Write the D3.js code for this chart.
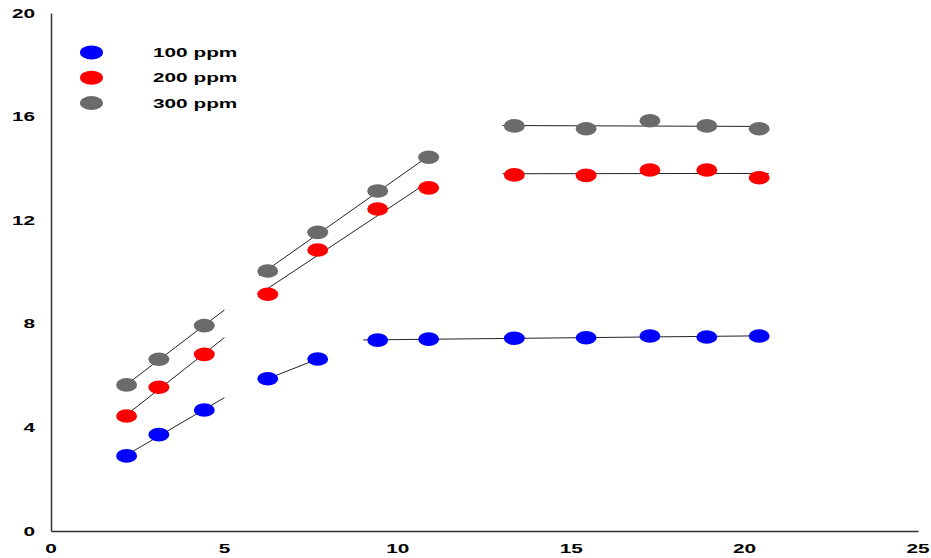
<!DOCTYPE html>
<html>
<head>
<meta charset="utf-8">
<script src="https://cdn.jsdelivr.net/npm/d3@7/dist/d3.min.js"></script>
<style>
  html, body { margin: 0; padding: 0; background: #fff; }
  svg text { font-family: "Liberation Sans", Arial, sans-serif; font-weight: bold; font-size: 13px; fill: #000; }
</style>
</head>
<body>
<svg id="chart" width="931" height="558"></svg>
<script>
// Sampling times shared by all three concentrations
const times = [2.18, 3.11, 4.42, 6.25, 7.69, 9.42, 10.89, 13.36, 15.43, 17.27, 18.91, 20.42];

// Measured values per concentration
const ppm100 = [2.90, 3.72, 4.67, 5.88, 6.64, 7.37, 7.41, 7.44, 7.46, 7.53, 7.49, 7.53];
const ppm200 = [4.44, 5.55, 6.82, 9.14, 10.85, 12.43, 13.25, 13.75, 13.73, 13.94, 13.94, 13.64];
const ppm300 = [5.64, 6.63, 7.93, 10.04, 11.53, 13.13, 14.43, 15.64, 15.53, 15.84, 15.64, 15.53];

const seriesNames = ["100 ppm", "200 ppm", "300 ppm"];
const seriesColors = ["#0000ff", "#ff0000", "#6b6b6b"];

// Linear-fit segments: [first index, last index, fit drawn from x, to x]
const fits100 = [[0, 2, 2.18, 5.0], [3, 4, 6.0, 7.69], [5, 11, 9.0, 20.7]];
const fits200 = [[0, 2, 2.18, 5.0], [3, 6, 6.0, 10.89], [7, 11, 13.02, 20.7]];
const fits300 = [[0, 2, 2.18, 5.0], [3, 6, 6.0, 10.89], [7, 11, 13.02, 20.7]];

const xTicks = [0, 5, 10, 15, 20, 25];
const yTicks = [0, 4, 8, 12, 16, 20];

const series = [
  { name: seriesNames[0], color: seriesColors[0], values: ppm100, fits: fits100 },
  { name: seriesNames[1], color: seriesColors[1], values: ppm200, fits: fits200 },
  { name: seriesNames[2], color: seriesColors[2], values: ppm300, fits: fits300 }
];

const svg = d3.select("#chart");
const x = d3.scaleLinear().domain([0, 25]).range([51, 918]);
const y = d3.scaleLinear().domain([0, 20]).range([531, 13]);
const stretch = 1.6;

// Axes (lines only, no tick marks)
const xAxis = svg.append("g").attr("transform", `translate(0,${y(0)})`)
  .call(d3.axisBottom(x).tickValues(xTicks).tickSize(0).tickFormat(""));
const yAxis = svg.append("g").attr("transform", `translate(${x(0)},0)`)
  .call(d3.axisLeft(y).tickValues(yTicks).tickSize(0).tickFormat(""));
[xAxis, yAxis].forEach(g => g.select(".domain").attr("stroke", "#333").attr("stroke-width", 1.5));

// Tick labels, wide bold lettering
svg.append("g").selectAll("text").data(xTicks).join("text")
  .attr("transform", d => `translate(${x(d)},${y(0) + 22}) scale(${stretch},1)`)
  .attr("text-anchor", "middle")
  .text(d => d);
svg.append("g").selectAll("text").data(yTicks).join("text")
  .attr("transform", d => `translate(35,${y(d)}) scale(${stretch},1)`)
  .attr("text-anchor", "end")
  .attr("dy", "0.36em")
  .text(d => d);

// Least-squares line through a subset of points
function fitLine(values, i0, i1) {
  const px = times.slice(i0, i1 + 1), py = values.slice(i0, i1 + 1);
  const mx = d3.mean(px), my = d3.mean(py);
  let sxy = 0, sxx = 0;
  px.forEach((v, i) => { sxy += (v - mx) * (py[i] - my); sxx += (v - mx) * (v - mx); });
  const b = sxy / sxx, a = my - b * mx;
  return t => a + b * t;
}

const fitG = svg.append("g");
series.forEach(s => {
  s.fits.forEach(([i0, i1, x0, x1]) => {
    const f = fitLine(s.values, i0, i1);
    fitG.append("line")
      .attr("x1", x(x0)).attr("y1", y(f(x0)))
      .attr("x2", x(x1)).attr("y2", y(f(x1)))
      .attr("stroke", "#222").attr("stroke-width", 1);
  });
});

// Data markers
const ptG = svg.append("g");
series.forEach(s => {
  ptG.selectAll(null).data(s.values).join("ellipse")
    .attr("cx", (d, i) => x(times[i]))
    .attr("cy", d => y(d))
    .attr("rx", 10.5).attr("ry", 6.8)
    .attr("fill", s.color);
});

// Legend
const legend = svg.append("g");
series.forEach((s, i) => {
  const ly = 52.5 + i * 25.3;
  legend.append("ellipse").attr("cx", 91.5).attr("cy", ly)
    .attr("rx", 11.5).attr("ry", 7).attr("fill", s.color);
  legend.append("text")
    .attr("transform", `translate(153,${ly}) scale(${stretch},1)`)
    .attr("dy", "0.36em")
    .text(s.name);
});
</script>
</body>
</html>
